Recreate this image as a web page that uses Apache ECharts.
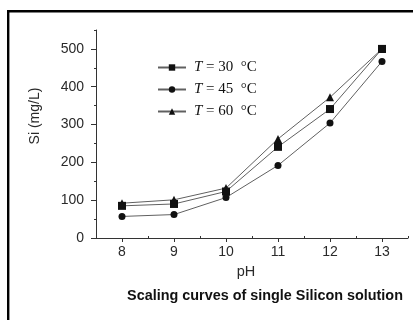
<!DOCTYPE html>
<html><head><meta charset="utf-8">
<script src="https://cdn.jsdelivr.net/npm/echarts@6/dist/echarts.min.js"></script>
<style>html,body{margin:0;padding:0;background:#fff}#c{width:413px;height:320px}</style>
</head><body><div id="c"></div>
<script>
var pH = [8, 9, 10, 11, 12, 13];
var t30 = [85, 90, 123, 241, 341, 500];
var t45 = [57, 62, 107, 192, 304, 467];
var t60 = [92, 101, 132, 262, 372, 500];
var xTicks = [8, 9, 10, 11, 12, 13];
var xMinor = [8.5, 9.5, 10.5, 11.5, 12.5, 13.5];
var yTicks = [0, 100, 200, 300, 400, 500];
var yMinor = [50, 150, 250, 350, 450, 550];

function pairs(v){ return pH.map(function(x,i){ return [x, v[i]]; }); }
var chart = echarts.init(document.getElementById('c'), null, {renderer:'canvas'});
var lab = {fontFamily:'Liberation Sans, Arial, sans-serif', fontSize:14, color:'#2a2a2a'};
function mk(name, data, sym, size){
  return {type:'line', name:name, data:pairs(data), symbol:sym, symbolSize:size,
    lineStyle:{color:'#606060', width:1}, itemStyle:{color:'#111'}, animation:false};
}
chart.setOption({
  animation:false,
  grid:{left:96, right:5, top:30, bottom:82},
  xAxis:[{
    type:'value', min:7.5, max:13.5,
    axisLine:{lineStyle:{color:'#333', width:1}},
    axisTick:{show:true, length:4, inside:false, customValues:xTicks, lineStyle:{color:'#333'}},
    axisLabel:Object.assign({margin:7, customValues:xTicks}, lab),
    splitLine:{show:false}
  },{
    type:'value', min:7.5, max:13.5, position:'bottom',
    axisLine:{show:false},
    axisTick:{show:true, length:2, inside:true, customValues:xMinor, lineStyle:{color:'#333'}},
    axisLabel:{show:false}, splitLine:{show:false}
  }],
  yAxis:[{
    type:'value', min:0, max:550,
    axisLine:{show:true, lineStyle:{color:'#333', width:1}},
    axisTick:{show:true, length:5, customValues:yTicks, lineStyle:{color:'#333'}},
    axisLabel:Object.assign({margin:12, customValues:yTicks}, lab),
    splitLine:{show:false}
  },{
    type:'value', min:0, max:550, position:'left',
    axisLine:{show:false},
    axisTick:{show:true, length:2, customValues:yMinor, lineStyle:{color:'#333'}},
    axisLabel:{show:false}, splitLine:{show:false}
  }],
  legend:{
    orient:'vertical', left:152, top:55, itemWidth:28, itemHeight:8, itemGap:7,
    data:['30','45','60'],
    formatter:function(n){ return '{i|T} = ' + n + '  \u00b0C'; },
    textStyle:{fontFamily:'Liberation Serif, Times New Roman, serif', fontSize:15, color:'#111', padding:[0,0,0,3],
      rich:{i:{fontStyle:'italic', fontFamily:'Liberation Serif, Times New Roman, serif', fontSize:15, color:'#111'}}}
  },
  series:[mk('30', t30, 'rect', 8), mk('45', t45, 'circle', 7), mk('60', t60, 'triangle', 8)],
  graphic:[
    {type:'rect', shape:{x:8.2, y:11.2, width:430, height:340}, style:{fill:null, stroke:'#000', lineWidth:2.4}, silent:true},
    {type:'text', x:35, y:116, rotation:Math.PI/2, style:{text:'Si (mg/L)', fontFamily:'Liberation Sans, Arial, sans-serif', fontSize:14, fill:'#2a2a2a', align:'center', verticalAlign:'middle'}},
    {type:'text', x:246, y:272, style:{text:'pH', fontFamily:'Liberation Sans, Arial, sans-serif', fontSize:14.5, fill:'#2a2a2a', align:'center', verticalAlign:'middle'}},
    {type:'text', x:265, y:296, style:{text:'Scaling curves of single Silicon solution', fontFamily:'Liberation Sans, Arial, sans-serif', fontSize:14.4, fontWeight:'bold', fill:'#111', align:'center', verticalAlign:'middle'}}
  ]
});
</script></body></html>
